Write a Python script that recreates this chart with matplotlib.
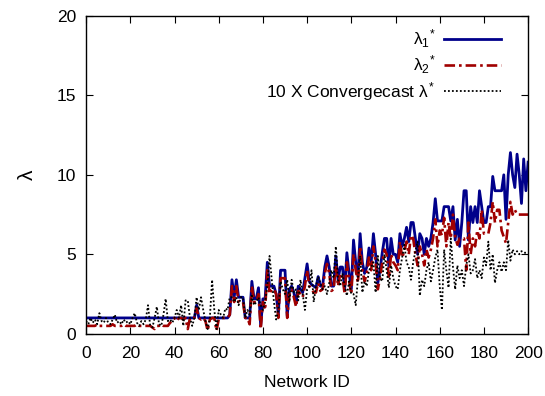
import numpy as np
import matplotlib
matplotlib.use("Agg")
import matplotlib.pyplot as plt

plt.rcParams['font.family'] = ['Liberation Sans', 'DejaVu Sans']
plt.rcParams['mathtext.fontset'] = 'custom'
plt.rcParams['mathtext.rm'] = 'Liberation Sans'
plt.rcParams['mathtext.it'] = 'Liberation Sans'

network_id = list(range(0, 201))

lambda1 = [
    1, 1, 1, 1, 1, 1, 1, 1, 1, 1,
    1, 1, 1, 1, 1, 1, 1, 1, 1, 1,
    1, 1, 1, 1, 1, 1, 1, 1, 1, 1,
    1, 1, 1, 1, 1, 1, 1, 1, 1, 1,
    1, 1, 1, 1, 1, 1, 1, 1, 1, 1,
    1.8, 1, 1, 1, 1, 1, 1, 1, 1, 1,
    1, 1, 1, 1, 1, 1.2, 3.4, 2.3, 3.4, 2.3,
    2.3, 2.3, 1.0, 1.0, 1.0, 3.3, 2.2, 2.2, 2.9, 0.5,
    2.2, 2.2, 4.5, 3.0, 3.0, 3.0, 2.5, 1.2, 4.0, 4.0,
    4.0, 1.1, 2.8, 3.0, 2.6, 1.9, 3.0, 2.8, 2.6, 3.5,
    4.4, 3.3, 3.1, 3.0, 2.9, 3.6, 3.0, 3.0, 4.2, 4.9,
    4.2, 3.0, 3.0, 4.9, 3.4, 4.2, 4.2, 2.8, 5.1, 3.8,
    2.8, 5.9, 4.5, 3.6, 6.3, 4.5, 3.8, 4.2, 5.4, 4.5,
    6.3, 5.0, 3.2, 4.0, 5.1, 6.0, 6.0, 4.2, 6.0, 5.0,
    5.0, 4.5, 6.3, 5.5, 6.0, 6.7, 5.8, 7.0, 7.0, 6.0,
    5.0, 6.3, 6.0, 5.0, 6.0, 5.5, 6.0, 7.0, 8.5, 7.1,
    7.1, 7.1, 8.0, 8.0, 8.0, 7.1, 8.0, 5.9, 7.2, 5.5,
    7.0, 9.0, 9.0, 5.9, 8.0, 7.0, 8.0, 7.0, 9.0, 8.0,
    7.0, 7.0, 8.0, 8.0, 9.9, 9.0, 9.0, 9.0, 9.0, 10.0,
    7.2, 10.0, 11.4, 10.0, 9.2, 11.3, 10.0, 8.2, 11.0, 9.0,
    10.8,
]

lambda2 = [
    0.5, 0.5, 0.5, 0.5, 0.5, 0.6, 0.5, 0.5, 0.5, 0.5,
    0.5, 0.5, 0.6, 0.5, 0.5, 0.5, 0.5, 0.6, 0.5, 0.5,
    0.5, 0.5, 0.5, 0.6, 0.5, 0.5, 0.5, 0.5, 0.5, 0.5,
    0.4, 0.3, 0.5, 0.5, 0.6, 0.5, 0.5, 0.5, 0.7, 0.8,
    1.0, 0.8, 1.0, 1.0, 0.9, 1.0, 0.3, 1.0, 1.0, 1.0,
    1.6, 1.0, 0.9, 1.0, 0.8, 0.2, 0.9, 1.0, 1.0, 0.2,
    0.9, 1.0, 1.0, 1.0, 1.0, 1.2, 3.0, 2.0, 3.0, 2.0,
    2.0, 2.0, 1.0, 1.0, 0.6, 3.0, 2.0, 2.0, 2.5, 0.3,
    2.0, 1.5, 4.0, 2.5, 2.8, 2.8, 2.5, 1.0, 3.5, 3.5,
    3.5, 1.0, 2.5, 2.8, 2.3, 1.7, 2.7, 2.5, 2.3, 3.0,
    4.0, 3.0, 2.8, 2.6, 2.6, 3.2, 2.7, 2.8, 3.8, 4.4,
    3.8, 2.7, 2.8, 4.3, 3.0, 3.8, 3.6, 2.5, 4.5, 3.3,
    2.5, 5.0, 4.0, 3.2, 5.5, 4.0, 3.3, 3.8, 4.8, 4.0,
    5.5, 4.5, 2.8, 3.5, 4.5, 5.3, 5.0, 3.5, 5.0, 4.5,
    4.3, 4.0, 5.8, 4.8, 5.2, 5.8, 5.0, 6.2, 6.0, 5.0,
    4.3, 5.5, 5.0, 4.3, 5.3, 4.8, 5.3, 6.0, 7.2, 5.5,
    6.5, 6.2, 7.3, 5.5, 7.0, 6.0, 7.5, 6.1, 5.6, 6.0,
    6.0, 6.0, 4.0, 7.0, 5.0, 6.0, 5.5, 6.5, 6.0, 7.8,
    6.3, 6.3, 6.3, 7.0, 8.3, 7.0, 7.8, 7.8, 6.5, 6.1,
    5.7, 7.0, 8.3, 7.5, 7.8, 7.5, 7.5, 7.5, 7.5, 7.5,
    7.5,
]

convergecast = [
    0.8, 0.6, 1.0, 0.7, 0.9, 0.6, 1.3, 0.8, 0.7, 1.0,
    0.7, 0.6, 0.9, 1.2, 0.7, 0.8, 0.6, 0.9, 0.7, 0.8,
    0.6, 1.0, 1.3, 0.7, 0.5, 0.8, 0.6, 0.9, 1.8, 0.5,
    0.4, 1.0, 1.7, 0.6, 0.5, 1.2, 2.2, 0.8, 0.9, 0.7,
    1.0, 1.5, 1.0, 1.8, 0.5, 2.1, 2.1, 1.0, 0.5, 1.0,
    2.3, 1.5, 2.3, 1.5, 0.8, 0.3, 1.0, 3.4, 1.5, 0.3,
    1.5, 1.2, 1.0, 1.6, 1.5, 2.3, 2.3, 2.0, 2.3, 1.8,
    2.3, 2.3, 1.0, 1.5, 1.2, 2.4, 1.8, 2.0, 2.3, 1.8,
    1.5, 2.0, 3.0, 4.9, 3.4, 2.0, 0.9, 1.5, 3.3, 2.8,
    2.5, 3.4, 2.0, 3.4, 2.6, 2.8, 2.1, 3.4, 2.5, 1.5,
    2.8, 3.0, 4.0, 2.0, 3.0, 3.6, 3.2, 2.8, 3.0, 2.5,
    3.2, 4.0, 3.5, 5.5, 3.4, 3.0, 3.8, 3.0, 2.4, 3.3,
    2.5, 2.5, 1.8, 3.5, 4.9, 2.6, 3.3, 3.0, 4.0, 4.2,
    4.5, 2.6, 4.9, 3.5, 3.3, 5.0, 4.0, 2.9, 4.3, 3.5,
    3.0, 2.8, 4.0, 4.8, 5.6, 4.5, 4.2, 3.4, 4.5, 5.2,
    5.8, 2.4, 3.4, 3.0, 4.0, 4.5, 3.3, 4.0, 4.8, 5.3,
    3.0, 1.5, 5.3, 4.0, 2.9, 6.0, 4.2, 2.8, 4.3, 3.5,
    4.0, 3.0, 4.3, 5.0, 3.8, 4.0, 4.7, 3.5, 4.0, 3.5,
    4.8, 4.3, 5.8, 4.0, 5.0, 3.2, 4.0, 4.5, 3.9, 4.5,
    4.0, 5.9, 4.6, 5.3, 5.0, 5.2, 5.0, 5.2, 5.1, 5.1,
    5.1,
]

labels = [r'$\lambda_1{}^{*}$', r'$\lambda_2{}^{*}$', r'10 X Convergecast $\lambda^{*}$']

fig = plt.figure(figsize=(5.45, 3.96), dpi=100)
ax = fig.add_axes([0.158, 0.157, 0.811, 0.803])

ax.plot(network_id, lambda1, color='#00008b', lw=2.0, label=labels[0])
ax.plot(network_id, lambda2, color='#a00000', lw=1.9, linestyle=(0, (4, 1.5, 1, 1.5)), label=labels[1])
ax.plot(network_id, convergecast, color='black', lw=1.3, linestyle=(0, (1, 1.2)), label=labels[2])

ax.set_xlim(0, 200)
ax.set_ylim(0, 20)
ax.set_xticks(np.arange(0, 201, 20))
ax.set_yticks(np.arange(0, 21, 5))
ax.tick_params(direction='in', top=True, right=True, length=5, width=0.8, labelsize=12.5)
ax.tick_params(axis='x', pad=9)
ax.tick_params(axis='y', pad=7)
for s in ax.spines.values():
    s.set_linewidth(1.0)

ax.set_xlabel('Network ID', fontsize=12.5, labelpad=10)
ax.set_ylabel(r'$\lambda$', fontsize=15, labelpad=14)

leg = ax.legend(loc='upper right', frameon=False, markerfirst=False, fontsize=12.5,
                handlelength=3.3, handletextpad=0.5, labelspacing=0.2,
                borderaxespad=0.0, bbox_to_anchor=(0.955, 0.985))

fig.savefig('out.png', dpi=100)
